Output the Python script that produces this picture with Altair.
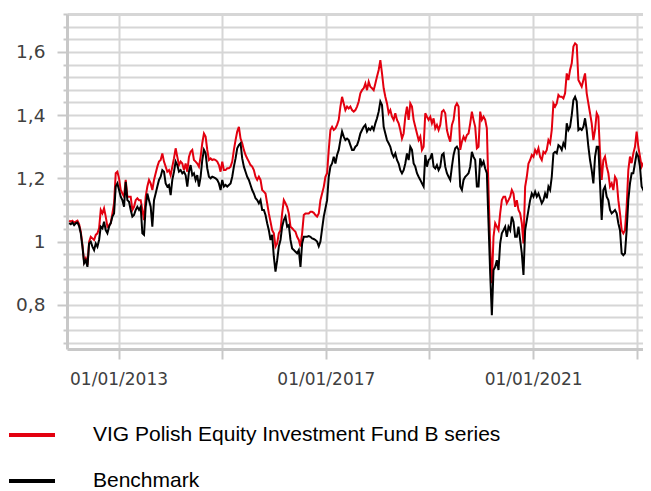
import altair as alt
import pandas as pd

NAME_FUND = "VIG Polish Equity Investment Fund B series"
NAME_BENCH = "Benchmark"
RED = "#e3000f"
BLACK = "#000000"

# sampled roughly every 12 days, Jan 2012 - Apr 2023
sample_dates = pd.date_range("2012-01-19", "2023-04-04", periods=350)

fund_a = [1.066,1.063,1.066,1.060,1.063,1.066,1.055,1.031,0.989,0.936,
          0.947,0.926,0.999,1.015,1.010,1.005,1.021,1.026,1.042,1.100,
          1.089,1.105,1.079,1.047,1.052,1.058,1.089,1.121,1.216,1.221,
          1.200,1.163,1.152,1.142,1.195,1.142,1.142,1.142,1.100,1.110,
          1.131,1.137,1.131,1.131,1.100,1.068,1.142,1.174,1.195,1.184,
          1.163,1.195,1.216,1.237,1.253,1.258,1.279,1.253,1.237,1.221,
          1.226,1.210,1.237,1.263,1.295,1.268,1.242,1.253,1.247,1.226]
fund_b = [1.247,1.221,1.268,1.284,1.290,1.258,1.253,1.247,1.237,1.268,
          1.311,1.342,1.332,1.290,1.258,1.263,1.258,1.260,1.258,1.253,
          1.242,1.221,1.253,1.226,1.226,1.232,1.232,1.237,1.253,1.290,
          1.321,1.348,1.363,1.326,1.311,1.290,1.274,1.263,1.253,1.242,
          1.237,1.226,1.205,1.195,1.205,1.195,1.163,1.158,1.152,1.121,
          1.089,1.063,1.036,1.026,0.984,0.994,1.026,1.036,1.089,1.131,
          1.121,1.110,1.089,1.047,1.042,1.036,1.031,1.015,1.005,0.984,
          1.026,1.084,1.089,1.089,1.089,1.094]
fund_c = [1.094,1.091,1.084,1.079,1.089,1.131,1.152,1.173,1.205,1.216,
          1.290,1.353,1.363,1.353,1.358,1.369,1.385,1.427,1.458,1.437,
          1.416,1.427,1.421,1.427,1.416,1.411,1.416,1.427,1.443,1.469,
          1.479,1.485,1.500,1.479,1.506,1.490,1.485,1.479,1.500,1.522,
          1.543,1.574,1.532,1.485,1.458,1.437,1.406,1.416,1.395,1.385,
          1.406,1.385,1.374,1.353,1.326,1.342,1.395,1.427,1.385,1.437,
          1.427,1.385,1.363,1.342,1.321,1.332,1.290,1.300,1.406,1.395,
          1.385,1.395]
fund_d = [1.374,1.390,1.358,1.369,1.353,1.369,1.411,1.416,1.406,1.353,
          1.332,1.316,1.369,1.385,1.427,1.437,1.427,1.290,1.316,1.332,
          1.321,1.337,1.342,1.374,1.411,1.385,1.363,1.295,1.300,1.411,
          1.385,1.395,1.385,1.358,1.163,0.984,0.868,1.015,1.058,1.047,
          1.036,1.089,1.131,1.142,1.142,1.121,1.131,1.142,1.163,1.152,
          1.110,1.131,1.100,1.089,1.058,0.994,1.173,1.205,1.247,1.258,
          1.274,1.268,1.290,1.279,1.295,1.268,1.258,1.284,1.279,1.290,
          1.321,1.311]
fund_e = [1.353,1.437,1.427,1.437,1.464,1.458,1.458,1.453,1.469,1.532,
          1.511,1.543,1.564,1.617,1.627,1.622,1.511,1.501,1.490,1.511,
          1.532,1.469,1.437,1.406,1.374,1.321,1.353,1.406,1.395,1.279,
          1.195,1.258,1.269,1.237,1.216,1.174,1.184,1.163,1.205,1.195,
          1.131,1.089,1.036,1.026,1.036,1.110,1.226,1.269,1.248,1.279,
          1.300,1.348,1.300,1.269,1.237,1.248,1.226,1.216,1.258,1.226]

bench_a = [1.058,1.055,1.060,1.052,1.058,1.060,1.049,1.026,0.984,0.931,
           0.941,0.920,0.994,0.999,0.984,0.973,0.994,0.984,1.005,1.047,
           1.042,1.063,1.036,1.026,1.047,1.058,1.079,1.089,1.174,1.184,
           1.163,1.142,1.131,1.110,1.189,1.131,1.126,1.100,1.079,1.084,
           1.100,1.110,1.100,1.110,1.026,1.021,1.110,1.152,1.131,1.110,
           1.047,1.131,1.152,1.174,1.195,1.205,1.226,1.221,1.184,1.174,
           1.179,1.147,1.195,1.221,1.253,1.242,1.221,1.226,1.216,1.221]
bench_b = [1.210,1.174,1.221,1.242,1.210,1.216,1.195,1.210,1.174,1.205,
           1.258,1.290,1.279,1.232,1.205,1.200,1.205,1.203,1.200,1.195,
           1.184,1.163,1.195,1.174,1.179,1.174,1.179,1.184,1.205,1.237,
           1.263,1.295,1.305,1.311,1.263,1.237,1.221,1.205,1.195,1.179,
           1.163,1.152,1.137,1.131,1.121,1.131,1.100,1.100,1.084,1.058,
           1.036,1.005,1.021,0.952,0.905,0.941,0.984,1.005,1.047,1.068,
           1.079,1.047,1.052,1.005,0.978,0.973,0.968,0.963,0.973,0.920,
           0.994,1.015,1.015,1.015,1.017,1.015]
bench_c = [1.010,1.008,1.005,1.000,0.985,1.000,1.040,1.079,1.105,1.131,
           1.205,1.237,1.247,1.268,1.247,1.274,1.290,1.321,1.348,1.332,
           1.321,1.326,1.321,1.305,1.290,1.290,1.300,1.305,1.321,1.342,
           1.353,1.363,1.369,1.348,1.358,1.353,1.363,1.353,1.374,1.390,
           1.411,1.443,1.432,1.363,1.342,1.321,1.311,1.300,1.279,1.268,
           1.279,1.258,1.247,1.226,1.216,1.226,1.247,1.279,1.258,1.300,
           1.290,1.247,1.237,1.216,1.205,1.195,1.184,1.174,1.274,1.237,
           1.258,1.263]
bench_d = [1.279,1.237,1.231,1.242,1.226,1.237,1.274,1.279,1.237,1.216,
           1.205,1.195,1.237,1.274,1.295,1.300,1.290,1.174,1.163,1.195,
           1.205,1.210,1.216,1.237,1.284,1.268,1.258,1.174,1.174,1.263,
           1.242,1.253,1.231,1.216,1.058,0.899,0.767,0.910,0.920,0.941,
           0.910,0.994,1.026,1.036,1.047,1.015,1.047,1.036,1.079,1.063,
           1.015,1.015,1.047,1.005,0.963,0.894,1.036,1.068,1.100,1.131,
           1.152,1.142,1.158,1.142,1.152,1.137,1.121,1.131,1.152,1.137,
           1.174,1.163]
bench_e = [1.205,1.279,1.284,1.279,1.305,1.300,1.290,1.311,1.300,1.374,
           1.353,1.363,1.400,1.448,1.458,1.443,1.353,1.358,1.353,1.363,
           1.390,1.353,1.300,1.258,1.226,1.184,1.268,1.300,1.300,1.184,
           1.068,1.163,1.174,1.142,1.131,1.100,1.089,1.094,1.100,1.089,
           1.058,1.036,0.963,0.957,0.963,1.036,1.131,1.184,1.216,1.216,
           1.248,1.279,1.269,1.237,1.174,1.163,1.153,1.131,1.142,1.142]

y_grid_values = [0.68, 0.72, 0.76, 0.8, 0.84, 0.88, 0.92, 0.96, 1.0, 1.04,
                 1.08, 1.12, 1.16, 1.2, 1.24, 1.28, 1.32, 1.36, 1.4, 1.44,
                 1.48, 1.52, 1.56, 1.6, 1.64, 1.68, 1.72]
x_tick_years = [2013, 2015, 2017, 2019, 2021, 2023]

fund = fund_a + fund_b + fund_c + fund_d + fund_e
bench = bench_a + bench_b + bench_c + bench_d + bench_e

df = pd.concat([
    pd.DataFrame({"date": sample_dates, "value": fund, "series": NAME_FUND}),
    pd.DataFrame({"date": sample_dates, "value": bench, "series": NAME_BENCH}),
])

GRID = "#d6d6d6"
AXIS = "#c8c8c8"
MAJOR = "indexof([0.8,1,1.2,1.4,1.6], datum.value) >= 0"

x_axis = alt.Axis(
    values=[alt.DateTime(year=y, month=1, date=1) for y in x_tick_years],
    labelExpr="(year(datum.value) - 2013) % 4 == 0 ? timeFormat(datum.value, '%d/%m/%Y') : ''",
    labelFont="DejaVu Sans", labelFontSize=17, labelColor="#404040",
    labelPadding=12, labelOverlap=False,
    tickSize=10, tickWidth=2, tickColor=AXIS,
    domainColor=AXIS, domainWidth=3,
    grid=True, gridColor=GRID, gridWidth=2,
    title=None,
)
y_axis = alt.Axis(
    values=y_grid_values,
    labelExpr=MAJOR + " ? replace(toString(datum.value), '.', ',') : ''",
    labelFont="DejaVu Sans", labelFontSize=18.5, labelColor="#404040",
    labelPadding=12, labelOverlap=False,
    tickSize={"condition": {"test": MAJOR, "value": 10}, "value": 4},
    tickWidth=2, tickColor=AXIS,
    domainColor=AXIS, domainWidth=3,
    grid=True, gridColor=GRID,
    gridWidth={"condition": {"test": "datum.value > 1.71", "value": 3}, "value": 2},
    title=None,
)

legend = alt.Legend(
    orient="none", legendX=-60, legendY=396, title=None,
    direction="vertical",
    symbolType="stroke", symbolSize=2116, symbolStrokeWidth=4,
    labelFont="Liberation Sans", labelFontSize=21, labelColor="#000000",
    labelOffset=36, rowPadding=11, labelLimit=600,
)

base = alt.Chart(df).encode(
    x=alt.X("date:T", title=None, axis=x_axis,
            scale=alt.Scale(domain=[alt.DateTime(year=2012, month=1, date=4),
                                    alt.DateTime(year=2023, month=2, date=14)])),
    y=alt.Y("value:Q", title=None, axis=y_axis,
            scale=alt.Scale(domain=[0.66, 1.72], nice=False, zero=False)),
    color=alt.Color("series:N", legend=legend,
                    scale=alt.Scale(domain=[NAME_FUND, NAME_BENCH], range=[RED, BLACK])),
)

red_line = base.transform_filter(alt.datum.series == NAME_FUND).mark_line(strokeWidth=2, clip=True)
black_line = base.transform_filter(alt.datum.series == NAME_BENCH).mark_line(strokeWidth=2, clip=True)

chart = alt.layer(red_line, black_line).properties(
    width=576, height=335,
    autosize=alt.AutoSizeParams(type="none"),
    padding={"left": 59, "top": 6, "right": 0, "bottom": 142},
    background="white",
).configure_view(stroke=None)

chart.save("out.html", embed_options={"renderer": "svg", "actions": False})
